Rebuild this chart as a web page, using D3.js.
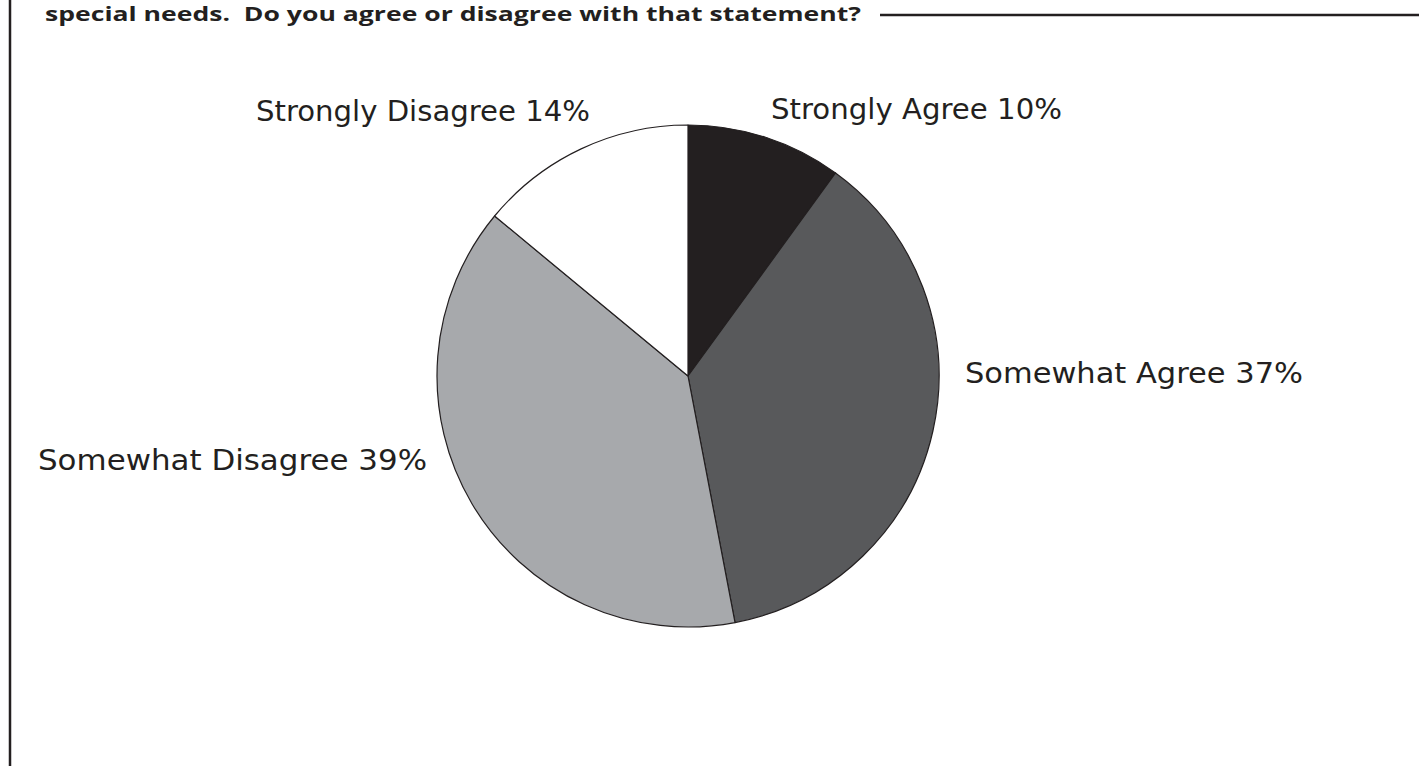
<!DOCTYPE html>
<html>
<head>
<meta charset="utf-8">
<script src="https://cdn.jsdelivr.net/npm/d3@7"></script>
<style>
  html, body { margin: 0; padding: 0; background: #ffffff; }
  svg { display: block; }
</style>
</head>
<body>
<svg id="chart" width="1419" height="766"></svg>
<script>
// Survey responses, clockwise from 12 o'clock
const categories = ["Strongly Agree", "Somewhat Agree", "Somewhat Disagree", "Strongly Disagree"];
const percents = [10, 37, 39, 14];
const fills = ["#231f20", "#58595b", "#a7a9ac", "#ffffff"];
const titleText = "special needs.  Do you agree or disagree with that statement?";

// Label placement: left x, baseline y and set width per slice
const labelAnchors = [
  { x: 771, y: 119, w: 291 },
  { x: 965, y: 383, w: 338 },
  { x: 38,  y: 470, w: 389 },
  { x: 256, y: 121, w: 334 }
];

const svg = d3.select("#chart");
const W = 1419, H = 766;
const cx = 688, cy = 376, radius = 251;
const ink = "#231f20";

// Frame: left rule and title rule
svg.append("line")
  .attr("x1", 10).attr("x2", 10).attr("y1", 0).attr("y2", H)
  .attr("stroke", ink).attr("stroke-width", 2.5);

svg.append("text")
  .attr("x", 45).attr("y", 21)
  .attr("font-family", "'Open Sans', 'DejaVu Sans', sans-serif")
  .attr("font-weight", 700)
  .attr("font-size", 19)
  .attr("fill", ink)
  .attr("textLength", 816)
  .attr("lengthAdjust", "spacingAndGlyphs")
  .style("white-space", "pre")
  .text(titleText);

svg.append("line")
  .attr("x1", 880).attr("x2", W).attr("y1", 15).attr("y2", 15)
  .attr("stroke", ink).attr("stroke-width", 2.5);

// Pie
const data = categories.map((c, i) => ({ category: c, value: percents[i], fill: fills[i] }));
const pie = d3.pie().value(d => d.value).sort(null);
const arc = d3.arc().innerRadius(0).outerRadius(radius);

const g = svg.append("g").attr("transform", `translate(${cx},${cy})`);
g.selectAll("path")
  .data(pie(data))
  .join("path")
  .attr("d", arc)
  .attr("fill", d => d.data.fill)
  .attr("stroke", ink)
  .attr("stroke-width", 1.2)
  .attr("stroke-linejoin", "round");

// Slice labels
svg.selectAll("text.slice-label")
  .data(data)
  .join("text")
  .attr("class", "slice-label")
  .attr("x", (d, i) => labelAnchors[i].x)
  .attr("y", (d, i) => labelAnchors[i].y)
  .attr("font-family", "'DejaVu Sans', sans-serif")
  .attr("font-size", 28)
  .attr("fill", ink)
  .attr("textLength", (d, i) => labelAnchors[i].w)
  .attr("lengthAdjust", "spacingAndGlyphs")
  .text(d => `${d.category} ${d.value}%`);
</script>
</body>
</html>
